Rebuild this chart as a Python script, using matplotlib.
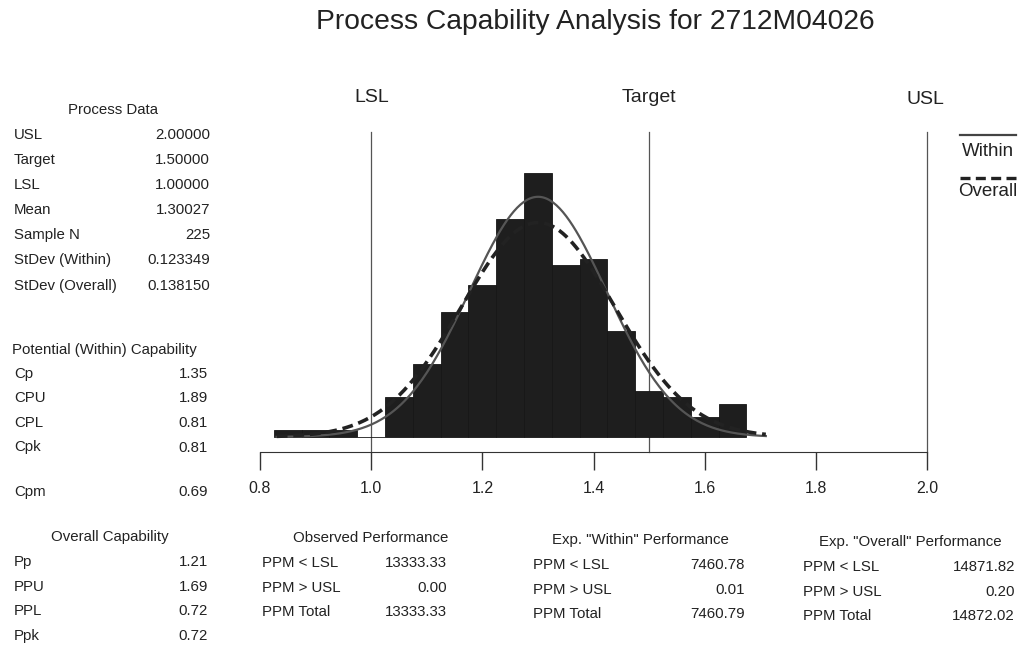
import numpy as np
import matplotlib
matplotlib.use('Agg')
import matplotlib.pyplot as plt

plt.rcParams['font.family'] = ['Liberation Sans', 'DejaVu Sans']

# histogram (bin width 0.05)
bin_left = [0.825, 0.875, 0.925, 0.975, 1.025, 1.075, 1.125, 1.175, 1.225,
            1.275, 1.325, 1.375, 1.425, 1.475, 1.525, 1.575, 1.625]
counts = [1, 1, 1, 0, 6, 11, 19, 23, 33, 40, 26, 27, 16, 7, 6, 3, 5]
bin_width = 0.05

usl, target, lsl = 2.0, 1.5, 1.0
mean, n = 1.30027, 225
sd_within, sd_overall = 0.123349, 0.138150

process_labels = ['USL', 'Target', 'LSL', 'Mean', 'Sample N', 'StDev (Within)', 'StDev (Overall)']
process_values = ['2.00000', '1.50000', '1.00000', '1.30027', '225', '0.123349', '0.138150']
within_labels = ['Cp', 'CPU', 'CPL', 'Cpk']
within_values = ['1.35', '1.89', '0.81', '0.81']
cpm_value = '0.69'
overall_labels = ['Pp', 'PPU', 'PPL', 'Ppk']
overall_values = ['1.21', '1.69', '0.72', '0.72']

ppm_labels = ['PPM < LSL', 'PPM > USL', 'PPM Total']
observed_values = ['13333.33', '0.00', '13333.33']
exp_within_values = ['7460.78', '0.01', '7460.79']
exp_overall_values = ['14871.82', '0.20', '14872.02']

W, H = 1022, 645
fig = plt.figure(figsize=(W / 100, H / 100), dpi=100)

def fx(px):
    return px / W

def fy(py):
    return 1 - py / H

# main histogram axes
ax = fig.add_axes([fx(260), fy(452), fx(927) - fx(260), fy(132) - fy(452)])
ax.bar(bin_left, counts, width=bin_width, align='edge', color='#1e1e1e',
       edgecolor='#161616', linewidth=0.6, zorder=2)

x = np.linspace(0.83, 1.71, 300)
scale = n * bin_width
pdf_w = scale * np.exp(-0.5 * ((x - mean) / sd_within) ** 2) / (sd_within * np.sqrt(2 * np.pi))
pdf_o = scale * np.exp(-0.5 * ((x - mean) / sd_overall) ** 2) / (sd_overall * np.sqrt(2 * np.pi))
ax.plot(x, pdf_w, color='#555555', lw=1.6, zorder=3)
ax.plot(x, pdf_o, color='#222222', lw=2.6, ls=(0, (3, 1.6)), zorder=3)

for v in (lsl, target, usl):
    ax.axvline(v, color='#555555', lw=0.9, zorder=1, clip_on=False)

ax.set_xlim(0.8, 2.0)
ax.set_ylim(-2.27, 46.2)
for s in ('top', 'left', 'right'):
    ax.spines[s].set_visible(False)
ax.spines['bottom'].set_color('#333333')
ax.set_yticks([])
ax.set_xticks([0.8, 1.0, 1.2, 1.4, 1.6, 1.8, 2.0])
ax.set_xticklabels(['0.8', '1.0', '1.2', '1.4', '1.6', '1.8', '2.0'])
ax.tick_params(axis='x', direction='out', length=13, width=1, color='#333333',
               labelsize=11.5, labelcolor='#222222', pad=8)

txt = dict(color='#222222')
fig.text(fx(595), fy(22), 'Process Capability Analysis for 2712M04026',
         ha='center', va='center', fontsize=20.3, **txt)
fig.text(fx(372), fy(97), 'LSL', ha='center', va='center', fontsize=14, **txt)
fig.text(fx(649), fy(97), 'Target', ha='center', va='center', fontsize=14, **txt)
fig.text(fx(925), fy(100), 'USL', ha='center', va='center', fontsize=14, **txt)

# legend
fig.add_artist(plt.Line2D([fx(960), fx(1016)], [fy(135), fy(135)], color='#444444', lw=1.6))
fig.text(fx(988), fy(151), 'Within', ha='center', va='center', fontsize=13.5, **txt)
fig.add_artist(plt.Line2D([fx(960), fx(1016)], [fy(178), fy(178)], color='#222222', lw=2.4,
                          ls=(0, (3, 1.6))))
fig.text(fx(988), fy(192), 'Overall', ha='center', va='center', fontsize=13.5, **txt)

# left panel
fs = 10.8
fig.text(fx(113), fy(110), 'Process Data', ha='center', va='center', fontsize=fs, **txt)
for i, (lab, val) in enumerate(zip(process_labels, process_values)):
    y = 135 + i * 25.1
    fig.text(fx(14), fy(y), lab, ha='left', va='center', fontsize=fs, **txt)
    fig.text(fx(210), fy(y), val, ha='right', va='center', fontsize=fs, **txt)

fig.text(fx(12), fy(350), 'Potential (Within) Capability', ha='left', va='center', fontsize=fs, **txt)
for i, (lab, val) in enumerate(zip(within_labels, within_values)):
    y = 374 + i * 24.5
    fig.text(fx(14), fy(y), lab, ha='left', va='center', fontsize=fs, **txt)
    fig.text(fx(208), fy(y), val, ha='right', va='center', fontsize=fs, **txt)
fig.text(fx(14), fy(492), 'Cpm', ha='left', va='center', fontsize=fs, **txt)
fig.text(fx(208), fy(492), cpm_value, ha='right', va='center', fontsize=fs, **txt)

fig.text(fx(110), fy(537), 'Overall Capability', ha='center', va='center', fontsize=fs, **txt)
for i, (lab, val) in enumerate(zip(overall_labels, overall_values)):
    y = 562 + i * 24.6
    fig.text(fx(14), fy(y), lab, ha='left', va='center', fontsize=fs, **txt)
    fig.text(fx(208), fy(y), val, ha='right', va='center', fontsize=fs, **txt)

# performance tables
tables = [
    ('Observed Performance', 371, 538, 262, 447, 563, observed_values),
    ('Exp. "Within" Performance', 640, 540, 533, 745, 565, exp_within_values),
    ('Exp. "Overall" Performance', 910, 542, 803, 1015, 567, exp_overall_values),
]
for title, cx, ty, lx, rx, y0, vals in tables:
    fig.text(fx(cx), fy(ty), title, ha='center', va='center', fontsize=fs, **txt)
    for i, (lab, val) in enumerate(zip(ppm_labels, vals)):
        y = y0 + i * 24.6
        fig.text(fx(lx), fy(y), lab, ha='left', va='center', fontsize=fs, **txt)
        fig.text(fx(rx), fy(y), val, ha='right', va='center', fontsize=fs, **txt)

fig.savefig('out.png', dpi=100)
